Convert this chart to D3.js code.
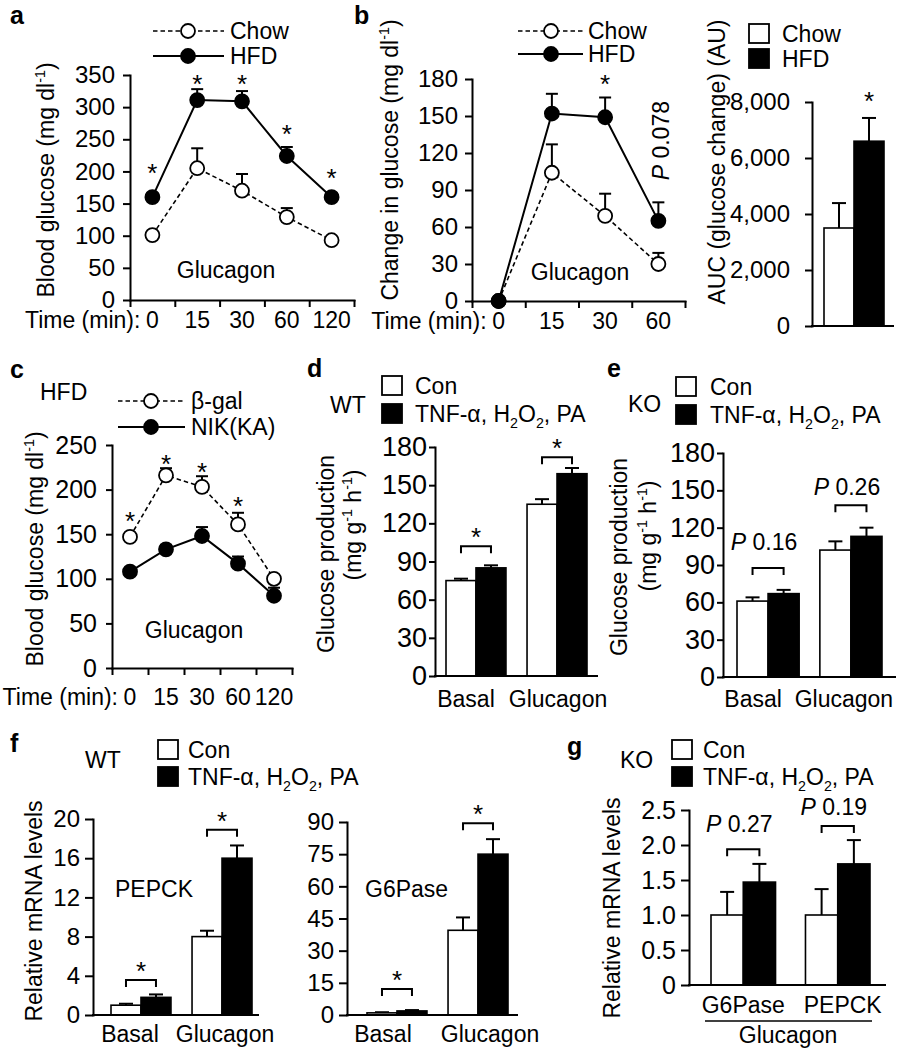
<!DOCTYPE html>
<html><head><meta charset="utf-8">
<script src="https://cdn.jsdelivr.net/npm/d3@7"></script>
<style>
body{margin:0;background:#fff;}
</style></head><body>
<svg id="fig" width="897" height="1050"></svg>
<script>
// ---------------- DATA ----------------
// Panel a
const timeA = ["0", "15", "30", "60", "120"];
const chowA = [101, 205, 170, 129, 93];
const chowAErr = [5, 31, 26, 14, 5];
const hfdA = [160, 311, 309, 224, 160];
const hfdAErr = [6, 17, 16, 14, 6];
const sigA = [207, 345, 345, 267, 199];
const ticksA = [0, 50, 100, 150, 200, 250, 300, 350];
// Panel b
const timeB = ["0", "15", "30", "60"];
const chowB = [0, 104, 69, 30];
const chowBErr = [0, 23, 18, 9];
const hfdB = [0, 152, 149, 65];
const hfdBErr = [0, 16, 16, 15];
const sigB = [null, null, 181, null];
const pLevelB = 130;
const ticksB = [0, 30, 60, 90, 120, 150, 180];
// AUC
const aucGroups = ["Chow", "HFD"];
const aucVals = [3500, 6600];
const aucErr = [890, 830];
const aucSig = 8250;
const ticksAUC = [0, 2000, 4000, 6000, 8000];
// Panel c
const timeC = ["0", "15", "30", "60", "120"];
const bgalC = [147, 216, 203, 161, 100];
const bgalCErr = [4, 8, 12, 13, 4];
const nikC = [108, 133, 148, 117, 81];
const nikCErr = [4, 5, 10, 8, 9];
const sigC = [171, 235, 227, 188, null];
const ticksC = [0, 50, 100, 150, 200, 250];
// Panels d, e
const groupsDE = ["Basal", "Glucagon"];
const dCon = [75, 135], dConErr = [1.5, 4];
const dTnf = [85, 159], dTnfErr = [2, 4.5];
const dBrackets = [102, 172];
const eCon = [61, 102], eConErr = [3, 7];
const eTnf = [67, 113], eTnfErr = [3, 7];
const eBrackets = [87.6, 138];
const eLabels = ["0.16", "0.26"], eLabelLevels = [102, 146];
const ticksDE = [0, 30, 60, 90, 120, 150, 180];
// Panel f
const groupsF = ["Basal", "Glucagon"];
const pepCon = [1.0, 8.0], pepConErr = [0.15, 0.6];
const pepTnf = [1.8, 16.0], pepTnfErr = [0.3, 1.3];
const pepBrackets = [3.56, 18.9];
const ticksPep = [0, 4, 8, 12, 16, 20];
const g6Con = [1.0, 39.5], g6ConErr = [0.3, 6];
const g6Tnf = [1.9, 75], g6TnfErr = [0.4, 7];
const g6Brackets = [12.1, 89.4];
const ticksG6 = [0, 15, 30, 45, 60, 75, 90];
// Panel g
const groupsG = ["G6Pase", "PEPCK"];
const gCon = [1.0, 1.0], gConErr = [0.33, 0.37];
const gTnf = [1.47, 1.73], gTnfErr = [0.26, 0.34];
const gBrackets = [1.94, 2.27];
const gLabels = ["0.27", "0.19"], gLabelLevels = [2.19, 2.43];
const ticksG = [0, 0.5, 1.0, 1.5, 2.0, 2.5];

// ---------------- HELPERS ----------------
const F = '"Liberation Sans", Arial, Helvetica, sans-serif';
const FS = 23;
const svg = d3.select("#fig");

function rich(g, x, y, parts, o = {}) {
  const fs = o.fs || FS;
  const t = g.append("text").attr("x", x).attr("y", y)
    .attr("font-family", F).attr("font-size", fs)
    .attr("text-anchor", o.anchor || "start").attr("fill", "#000");
  if (o.bold) t.attr("font-weight", "bold");
  if (o.rot) t.attr("transform", `rotate(-90,${x},${y})`);
  let shift = 0;
  parts.forEach(p => {
    if (typeof p === "string") p = { t: p };
    const ts = t.append("tspan").text(p.t);
    const target = p.sup ? -0.4 * fs : (p.sub ? 0.28 * fs : 0);
    if (target - shift !== 0) ts.attr("dy", target - shift);
    shift = target;
    if (p.sup || p.sub) ts.attr("font-size", fs * 0.62);
    if (p.it) ts.attr("font-style", "italic");
  });
  return t;
}
function txt(g, x, y, s, o = {}) { return rich(g, x, y, [s], o); }
function star(g, x, cy) { txt(g, x, cy + 15, "*", { anchor: "middle", fs: 26 }); }

function yAxis(g, y, x, ticks, fmt, fs, size, pad) {
  const ax = d3.axisLeft(y).tickValues(ticks).tickFormat(fmt)
    .tickSize(size).tickSizeOuter(0).tickPadding(pad);
  const a = g.append("g").attr("transform", `translate(${x},0)`).call(ax)
    .attr("font-family", F).attr("font-size", fs);
  a.select(".domain").attr("stroke-width", 2).attr("stroke-linecap", "square");
  a.selectAll(".tick line").attr("stroke-width", 2);
  a.selectAll(".tick text").attr("fill", "#000");
  return a;
}
function xLine(g, x0, x1, yb) {
  g.append("line").attr("x1", x0).attr("x2", x1).attr("y1", yb).attr("y2", yb)
    .attr("stroke", "#000").attr("stroke-width", 2).attr("stroke-linecap", "square");
}

const TNF = [{ t: "TNF-α, H" }, { t: "2", sub: true }, { t: "O" }, { t: "2", sub: true }, { t: ", PA" }];

function lineLegend(g, x0, x1, xc, xt, rows) {
  rows.forEach(r => {
    g.append("line").attr("x1", x0).attr("x2", x1).attr("y1", r.y).attr("y2", r.y)
      .attr("stroke", "#000").attr("stroke-width", r.filled ? 2 : 1.6)
      .attr("stroke-dasharray", r.filled ? null : "4.5,3");
    g.append("circle").attr("cx", xc).attr("cy", r.y).attr("r", 7)
      .attr("fill", r.filled ? "#000" : "#fff").attr("stroke", "#000").attr("stroke-width", 1.8);
    rich(g, xt, r.y + 8, r.label);
  });
}
function boxLegend(g, xs, xt, rows) {
  rows.forEach(r => {
    g.append("rect").attr("x", xs).attr("y", r.y - 10).attr("width", 20).attr("height", 19)
      .attr("fill", r.filled ? "#000" : "#fff").attr("stroke", "#000").attr("stroke-width", 1.8);
    rich(g, xt, r.y + 8, r.label);
  });
}

function linePanel(o) {
  const g = svg.append("g");
  const y = d3.scaleLinear().domain([0, o.max]).range([o.yb, o.yt]);
  const xb = d3.scaleBand().domain(o.cats).range([o.x0, o.x1]);
  const xc = c => xb(c) + xb.bandwidth() / 2;
  yAxis(g, y, o.x0, o.ticks, d3.format("d"), o.tfs, o.tsize, o.pad);
  const xl = d3.scaleLinear().domain([o.x0, o.x1]).range([o.x0, o.x1]);
  const bounds = o.cats.map(c => xb(c)).concat([o.x1]);
  const xa = g.append("g").attr("transform", `translate(0,${o.yb})`)
    .call(d3.axisBottom(xl).tickValues(bounds).tickFormat("").tickSize(7).tickSizeOuter(0));
  xa.select(".domain").attr("stroke-width", 2).attr("stroke-linecap", "square");
  xa.selectAll(".tick line").attr("stroke-width", 2);
  o.cats.forEach(c => txt(g, xc(c), o.labelY, c, { anchor: "middle", fs: o.xfs || FS }));
  txt(g, xc(o.cats[0]) - 12, o.labelY, "Time (min):", { anchor: "end" });
  o.series.forEach(s => {
    const line = d3.line().x((d, i) => xc(o.cats[i])).y(d => y(d));
    g.append("path").datum(s.v).attr("d", line).attr("fill", "none")
      .attr("stroke", "#000").attr("stroke-width", s.filled ? 2 : 1.6)
      .attr("stroke-dasharray", s.filled ? null : "4.5,3");
  });
  o.series.forEach(s => {
    s.v.forEach((v, i) => {
      if (!s.e[i]) return;
      const x = xc(o.cats[i]), y0 = y(v), y1 = y(v + s.e[i]);
      g.append("line").attr("x1", x).attr("x2", x).attr("y1", y0).attr("y2", y1)
        .attr("stroke", "#000").attr("stroke-width", 2);
      g.append("line").attr("x1", x - 6).attr("x2", x + 6).attr("y1", y1).attr("y2", y1)
        .attr("stroke", "#000").attr("stroke-width", 2);
    });
  });
  o.series.forEach(s => {
    s.v.forEach((v, i) => {
      g.append("circle").attr("cx", xc(o.cats[i])).attr("cy", y(v)).attr("r", 7)
        .attr("fill", s.filled ? "#000" : "#fff").attr("stroke", "#000").attr("stroke-width", 1.8);
    });
  });
  o.sig.forEach((lv, i) => { if (lv != null) star(g, xc(o.cats[i]), y(lv)); });
  return { g, y, xc };
}

function barPanel(o) {
  const g = svg.append("g");
  const y = d3.scaleLinear().domain([0, o.max]).range([o.yb, o.yt]);
  const xg = d3.scaleBand().domain(o.groups).range([o.bx0, o.bx1]).paddingInner(o.pi);
  const xs = d3.scaleBand().domain(["con", "tnf"]).range([0, xg.bandwidth()]);
  const series = [
    { k: "con", v: o.con, e: o.conE, fill: "#fff" },
    { k: "tnf", v: o.tnf, e: o.tnfE, fill: "#000" }
  ];
  const bc = (grp, k) => xg(grp) + xs(k) + xs.bandwidth() / 2;
  series.forEach(s => {
    o.groups.forEach((grp, i) => {
      const x = bc(grp, s.k), y1 = y(s.v[i] + s.e[i]);
      g.append("line").attr("x1", x).attr("x2", x).attr("y1", y(s.v[i])).attr("y2", y1)
        .attr("stroke", "#000").attr("stroke-width", 2);
      g.append("line").attr("x1", x - 7).attr("x2", x + 7).attr("y1", y1).attr("y2", y1)
        .attr("stroke", "#000").attr("stroke-width", 2);
    });
  });
  series.forEach(s => {
    o.groups.forEach((grp, i) => {
      g.append("rect").attr("x", xg(grp) + xs(s.k)).attr("width", xs.bandwidth())
        .attr("y", y(s.v[i])).attr("height", y(0) - y(s.v[i]))
        .attr("fill", s.fill).attr("stroke", "#000").attr("stroke-width", 1.6);
    });
  });
  yAxis(g, y, o.x0, o.ticks, o.fmt || d3.format("d"), o.tfs, o.tsize, o.pad);
  xLine(g, o.x0, o.xEnd, o.yb);
  const ldx = o.labelDx || [0, 0];
  o.groups.forEach((grp, i) => txt(g, xg(grp) + xg.bandwidth() / 2 + ldx[i], o.labelY, grp, { anchor: "middle" }));
  o.groups.forEach((grp, i) => {
    const lv = o.brackets[i];
    if (lv == null) return;
    const xa = bc(grp, "con"), xb = bc(grp, "tnf"), yy = y(lv);
    g.append("path").attr("d", `M${xa},${yy + 7}V${yy}H${xb}V${yy + 7}`)
      .attr("fill", "none").attr("stroke", "#000").attr("stroke-width", 2);
    if (o.labels) {
      rich(g, (xa + xb) / 2 - 4, y(o.labelLevels[i]), [{ t: "P", it: true }, " " + o.labels[i]], { anchor: "middle" });
    } else {
      star(g, (xa + xb) / 2, yy - 15);
    }
  });
  return { g, y, xg };
}

// ---------------- PANEL a ----------------
{
  const p = linePanel({
    x0: 130, x1: 354, yb: 300, yt: 75, max: 350, ticks: ticksA, tfs: 24, tsize: 7, pad: 8,
    cats: timeA, labelY: 328,
    series: [{ v: chowA, e: chowAErr, filled: false }, { v: hfdA, e: hfdAErr, filled: true }],
    sig: sigA
  });
  txt(p.g, 10, 24, "a", { bold: true, fs: 25 });
  lineLegend(p.g, 153, 224, 188, 230, [
    { y: 31, filled: false, label: ["Chow"] }, { y: 56, filled: true, label: ["HFD"] }]);
  rich(p.g, 54, 180, ["Blood glucose (mg dl", { t: "-1", sup: true }, ")"], { rot: true, anchor: "middle" });
  txt(p.g, 226, 278, "Glucagon", { anchor: "middle" });
}
// ---------------- PANEL b ----------------
{
  const p = linePanel({
    x0: 472, x1: 685, yb: 301, yt: 79, max: 180, ticks: ticksB, tfs: 24, tsize: 7, pad: 7,
    cats: timeB, labelY: 329,
    series: [{ v: chowB, e: chowBErr, filled: false }, { v: hfdB, e: hfdBErr, filled: true }],
    sig: sigB
  });
  txt(p.g, 354, 24, "b", { bold: true, fs: 25 });
  lineLegend(p.g, 518, 583, 551, 588, [
    { y: 31, filled: false, label: ["Chow"] }, { y: 54, filled: true, label: ["HFD"] }]);
  rich(p.g, 398, 160, ["Change in glucose (mg dl", { t: "-1", sup: true }, ")"], { rot: true, anchor: "middle" });
  txt(p.g, 580, 280, "Glucagon", { anchor: "middle" });
  rich(p.g, p.xc("60") + 11, p.y(pLevelB), [{ t: "P", it: true }, " 0.078"], { rot: true, anchor: "middle" });
}
// ---------------- AUC ----------------
{
  const g = svg.append("g");
  const y = d3.scaleLinear().domain([0, 8000]).range([326, 102]);
  const x = d3.scaleBand().domain(aucGroups).range([824, 884]);
  aucGroups.forEach((k, i) => {
    const cx = x(k) + x.bandwidth() / 2, y1 = y(aucVals[i] + aucErr[i]);
    g.append("line").attr("x1", cx).attr("x2", cx).attr("y1", y(aucVals[i])).attr("y2", y1)
      .attr("stroke", "#000").attr("stroke-width", 2);
    g.append("line").attr("x1", cx - 7).attr("x2", cx + 7).attr("y1", y1).attr("y2", y1)
      .attr("stroke", "#000").attr("stroke-width", 2);
    g.append("rect").attr("x", x(k)).attr("width", x.bandwidth()).attr("y", y(aucVals[i]))
      .attr("height", y(0) - y(aucVals[i])).attr("fill", i ? "#000" : "#fff")
      .attr("stroke", "#000").attr("stroke-width", 1.6);
  });
  yAxis(g, y, 812, ticksAUC, d3.format(","), 24, 7, 15);
  xLine(g, 812, 893, 326);
  star(g, x("HFD") + x.bandwidth() / 2, y(aucSig));
  boxLegend(g, 749, 782, [{ y: 34, filled: false, label: ["Chow"] }, { y: 59, filled: true, label: ["HFD"] }]);
  txt(g, 725, 162, "AUC (glucose change) (AU)", { rot: true, anchor: "middle" });
}
// ---------------- PANEL c ----------------
{
  const p = linePanel({
    x0: 112, x1: 292, yb: 668, yt: 445, max: 250, ticks: ticksC, tfs: 25, tsize: 6, pad: 9,
    cats: timeC, labelY: 705,
    series: [{ v: bgalC, e: bgalCErr, filled: false }, { v: nikC, e: nikCErr, filled: true }],
    sig: sigC
  });
  txt(p.g, 10, 378, "c", { bold: true, fs: 25 });
  txt(p.g, 40, 400, "HFD");
  lineLegend(p.g, 118, 185, 151, 191, [
    { y: 401, filled: false, label: ["β-gal"] }, { y: 427, filled: true, label: ["NIK(KA)"] }]);
  rich(p.g, 43, 549, ["Blood glucose (mg dl", { t: "-1", sup: true }, ")"], { rot: true, anchor: "middle" });
  txt(p.g, 194, 638, "Glucagon", { anchor: "middle" });
}
// ---------------- PANEL d ----------------
{
  const p = barPanel({
    x0: 435, xEnd: 597, yb: 676, yt: 447, max: 180, ticks: ticksDE, tfs: 27, tsize: 6, pad: 2,
    groups: groupsDE, con: dCon, conE: dConErr, tnf: dTnf, tnfE: dTnfErr,
    bx0: 446, bx1: 587, pi: 0.26, labelY: 707, labelDx: [-10, 1], brackets: dBrackets
  });
  txt(p.g, 307, 377, "d", { bold: true, fs: 25 });
  txt(p.g, 330, 413, "WT");
  boxLegend(p.g, 382, 415, [{ y: 386, filled: false, label: ["Con"] }, { y: 414, filled: true, label: TNF }]);
  txt(p.g, 334, 554, "Glucose production", { rot: true, anchor: "middle" });
  rich(p.g, 361, 525, ["(mg g", { t: "-1", sup: true }, " h", { t: "-1", sup: true }, ")"], { rot: true, anchor: "middle" });
}
// ---------------- PANEL e ----------------
{
  const p = barPanel({
    x0: 723, xEnd: 895, yb: 677, yt: 453, max: 180, ticks: ticksDE, tfs: 27, tsize: 6, pad: 2,
    groups: groupsDE, con: eCon, conE: eConErr, tnf: eTnf, tnfE: eTnfErr,
    bx0: 737, bx1: 882, pi: 0.25, labelY: 707, labelDx: [-15, -7], brackets: eBrackets,
    labels: eLabels, labelLevels: eLabelLevels
  });
  txt(p.g, 607, 377, "e", { bold: true, fs: 25 });
  txt(p.g, 628, 412, "KO");
  boxLegend(p.g, 676, 710, [{ y: 387, filled: false, label: ["Con"] }, { y: 415, filled: true, label: TNF }]);
  txt(p.g, 627, 557, "Glucose production", { rot: true, anchor: "middle" });
  rich(p.g, 656, 536, ["(mg g", { t: "-1", sup: true }, " h", { t: "-1", sup: true }, ")"], { rot: true, anchor: "middle" });
}
// ---------------- PANEL f ----------------
{
  const p = barPanel({
    x0: 93, xEnd: 258, yb: 1015, yt: 819, max: 20, ticks: ticksPep, tfs: 24, tsize: 8, pad: 5,
    groups: groupsF, con: pepCon, conE: pepConErr, tnf: pepTnf, tnfE: pepTnfErr,
    bx0: 111, bx1: 252, pi: 0.26, labelY: 1042, labelDx: [-11, 3], brackets: pepBrackets
  });
  const q = barPanel({
    x0: 347, xEnd: 517, yb: 1015, yt: 822, max: 90, ticks: ticksG6, tfs: 24, tsize: 8, pad: 5,
    groups: groupsF, con: g6Con, conE: g6ConErr, tnf: g6Tnf, tnfE: g6TnfErr,
    bx0: 367, bx1: 508, pi: 0.26, labelY: 1042, labelDx: [-14, 12], brackets: g6Brackets
  });
  txt(p.g, 10, 752, "f", { bold: true, fs: 25 });
  txt(p.g, 85, 768, "WT");
  boxLegend(p.g, 158, 188, [{ y: 750, filled: false, label: ["Con"] }, { y: 777, filled: true, label: TNF }]);
  txt(p.g, 42, 911, "Relative mRNA levels", { rot: true, anchor: "middle" });
  txt(p.g, 115, 897, "PEPCK");
  txt(q.g, 365, 897, "G6Pase");
}
// ---------------- PANEL g ----------------
{
  const p = barPanel({
    x0: 689, xEnd: 885, yb: 985, yt: 810, max: 2.5, ticks: ticksG, tfs: 25, tsize: 8, pad: 5,
    fmt: d => d === 0 ? "0" : d.toFixed(1),
    groups: groupsG, con: gCon, conE: gConErr, tnf: gTnf, tnfE: gTnfErr,
    bx0: 711, bx1: 870, pi: 0.317, labelY: 1013, labelDx: [0, 5], brackets: gBrackets,
    labels: gLabels, labelLevels: gLabelLevels
  });
  txt(p.g, 567, 755, "g", { bold: true, fs: 25 });
  txt(p.g, 620, 768, "KO");
  boxLegend(p.g, 672, 703, [{ y: 750, filled: false, label: ["Con"] }, { y: 777, filled: true, label: TNF }]);
  txt(p.g, 620, 908, "Relative mRNA levels", { rot: true, anchor: "middle" });
  p.g.append("line").attr("x1", 705).attr("x2", 872).attr("y1", 1021).attr("y2", 1021)
    .attr("stroke", "#000").attr("stroke-width", 1.5);
  txt(p.g, 788, 1043, "Glucagon", { anchor: "middle" });
}
</script>
</body></html>
